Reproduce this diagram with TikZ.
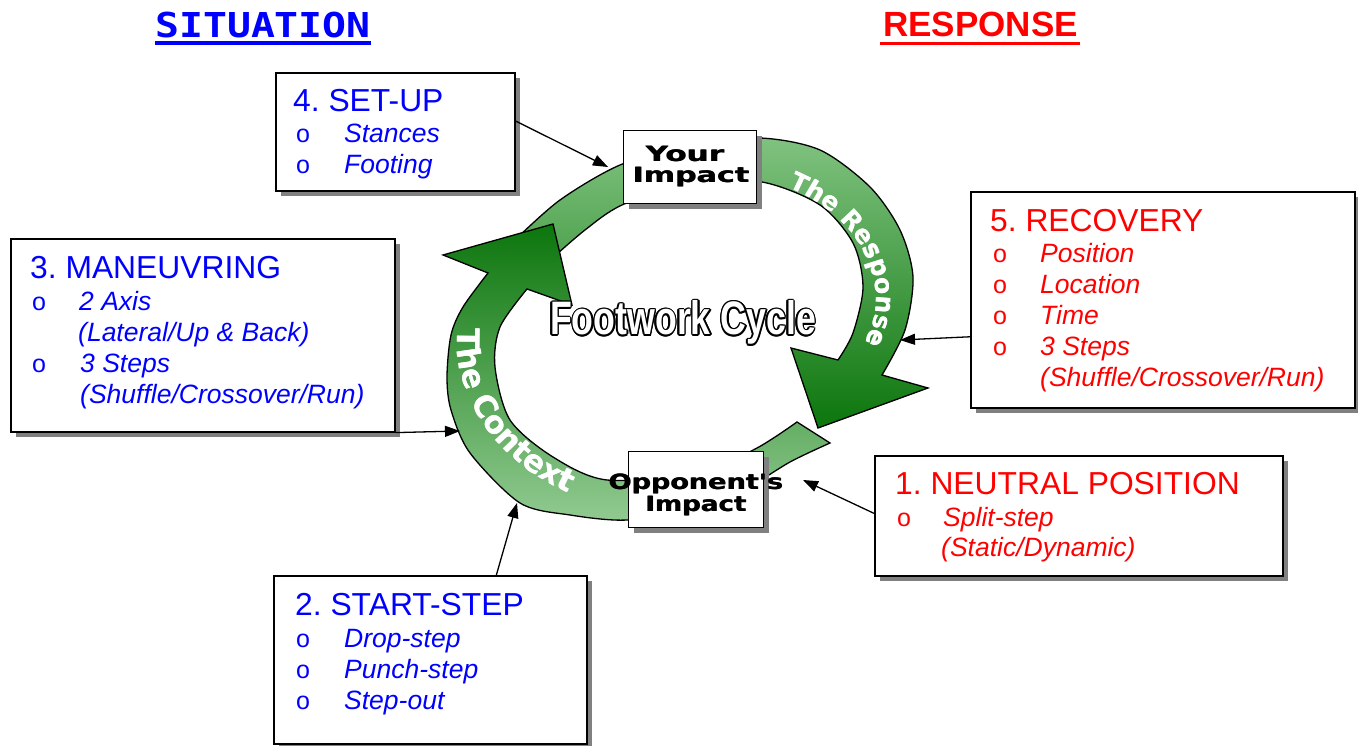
\documentclass[tikz,border=0pt]{standalone}
\usepackage{fontspec}
\setmainfont{Liberation Sans}
\newfontfamily\monofam{DejaVu Sans Mono}
\newfontfamily\heavyfam{DejaVu Sans}[FakeStretch=1.12]
\newfontfamily\ringfam{DejaVu Sans}
\usetikzlibrary{arrows.meta,calc,decorations.text}
\definecolor{sitblue}{RGB}{0,0,255}
\definecolor{resred}{RGB}{255,0,0}
\definecolor{shadowgray}{RGB}{128,128,128}
\definecolor{lightgreen}{RGB}{128,194,128}
\definecolor{darkgreen}{RGB}{12,118,12}
\definecolor{paleg}{RGB}{145,202,145}
\begin{document}
\frenchspacing
\begin{tikzpicture}[x=1pt,y=1pt,
 box/.style={draw=black,line width=1.6pt,fill=white,inner sep=0pt,anchor=north west},
 ibox/.style={draw=black,line width=1.3pt,fill=white,inner sep=0pt,anchor=north west},
 hdr/.style={font=\fontsize{31.8}{36}\selectfont,anchor=base west,inner sep=0pt},
 itm/.style={font=\fontsize{26.5}{30}\selectfont\itshape,anchor=base west,inner sep=0pt},
 bul/.style={font=\fontsize{25}{30}\selectfont,anchor=base west,inner sep=0pt},
 conn/.style={line width=1.3pt,-{Triangle[length=15pt,width=11pt]}},
 ring/.style={draw=black,line width=1.3pt},
 impact/.style={font=\heavyfam\bfseries\fontsize{21}{21}\selectfont,anchor=base,inner sep=0pt},
 fcyc/.style={font=\bfseries\fontsize{47}{47}\selectfont,anchor=base,inner sep=0pt},
]
\useasboundingbox (0,0) rectangle (1358,745);

% titles
\node[anchor=base west,inner sep=0pt,text=sitblue,font=\monofam\bfseries\fontsize{34.3}{36}\selectfont] (sit) at (155,707) {\scalebox{1.16}[1]{SITUATION}};
\fill[sitblue] ([yshift=-3pt]sit.base west) rectangle ([yshift=-7pt]sit.base east);
\node[anchor=base west,inner sep=0pt,text=resred,font=\bfseries\fontsize{35}{36}\selectfont] (resp) at (883,708) {RESPONSE};
\fill[resred] ([xshift=-3pt,yshift=-5pt]resp.base west) rectangle ([xshift=2pt,yshift=-8pt]resp.base east);

% Response arrow
\path[ring,top color=lightgreen,bottom color=darkgreen]
  plot[smooth] coordinates {(515,505) (560,545) (620,580) (690,600) (760,607) (820,595) (870,558) (900,515) (913,468) (905,415) (882,370)}
  -- (928,357) -- (818,317) -- (791,397) -- (838,385)
  -- plot[smooth] coordinates {(838,385) (853,412) (863,458) (853,502) (820,540) (762,563) (690,563) (622,540) (585,515) (548,483)}
  -- cycle;
% Context arrow
\path[ring,top color=darkgreen,bottom color=paleg]
  plot[smooth] coordinates {(830,302) (790,283) (740,253) (690,237) (627,225) (570,230) (520,242) (470,292) (451,335) (447,368) (451,410) (463,438) (488,472)}
  -- (443,490) -- (553,521) -- (572,440) -- (527,456)
  -- plot[smooth] coordinates {(527,456) (500,418) (495,378) (510,325) (553,288) (607,265) (700,272) (757,297) (797,323)}
  -- cycle;

% ring labels (drawn twice, slightly offset, for a heavier weight)
{\ringfam\bfseries\fontsize{25}{25}\selectfont
\foreach \dx in {0,0.6}{
\path[xshift=\dx pt,decorate,decoration={text along path,text align=center,
  text={|\color{white}|The Response}}]
  (776.0,562.0) arc[start angle=64,end angle=-26,x radius=178,y radius=128];
}}
{\ringfam\bfseries\fontsize{31}{31}\selectfont
\foreach \dx in {0,0.6}{
\path[xshift=\dx pt,decorate,decoration={text along path,text align=center,
  text={|\color{white}|The Context}}]
  (459.1,429.5) arc[start angle=172,end angle=244,x radius=218,y radius=176];
}}

% impact boxes
\fill[shadowgray] (629,609) rectangle (762,536);
\node[ibox,minimum width=133pt,minimum height=73pt] (yimp) at (623,615) {};
\fill[shadowgray] (634,288) rectangle (769,212);
\node[ibox,minimum width=135pt,minimum height=76pt] (oimp) at (628,294) {};
\foreach \dx [count=\i] in {-0.35,0.35}{
  \node[impact] (yimpa\i) at (685+\dx,583) {\scalebox{1.32}[1]{Your}};
  \node[impact] (yimpb\i) at (691+\dx,562) {\scalebox{1.28}[1]{Impact}};
  \node[impact] (oimpa\i) at (696+\dx,255) {\scalebox{1.15}[1]{Opponent's}};
  \node[impact] (oimpb\i) at (696+\dx,233) {\scalebox{1.11}[1]{Impact}};
}

% Footwork Cycle (outlined)
\foreach \a [count=\i] in {0,30,...,330}
  \node[fcyc,text=black] (fco\i) at ($(683,410)+(\a:1.6)$) {\scalebox{0.76}[1]{Footwork Cycle}};
\node[fcyc,text=white] (fc) at (683,410) {\scalebox{0.76}[1]{Footwork Cycle}};

% boxes with shadows
\fill[shadowgray] (281,667) rectangle (520,549);
\node[box,minimum width=239pt,minimum height=118pt] (setup) at (275,673) {};
\fill[shadowgray] (16,501) rectangle (400,308);
\node[box,minimum width=384pt,minimum height=193pt] (maneuv) at (10,507) {};
\fill[shadowgray] (976,548) rectangle (1360,332);
\node[box,minimum width=384pt,minimum height=216pt] (recov) at (970,554) {};
\fill[shadowgray] (880,284) rectangle (1288,164);
\node[box,minimum width=408pt,minimum height=120pt] (neutral) at (874,290) {};
\fill[shadowgray] (279,164) rectangle (592,-4);
\node[box,minimum width=313pt,minimum height=168pt] (start) at (273,170) {};

% SET-UP text
\begin{scope}[every node/.append style={text=sitblue}]
\node[hdr] (s4h) at (293,633.5) {4. SET-UP};
\node[bul] (s4b1) at (296,602) {o};
\node[itm] (s4i1) at (344,602) {Stances};
\node[bul] (s4b2) at (296,571) {o};
\node[itm] (s4i2) at (344,571) {Footing};
% MANEUVRING
\node[hdr] (s3h) at (30,466) {3. MANEUVRING};
\node[bul] (s3b1) at (32,434) {o};
\node[itm] (s3i1) at (79,434) {2 Axis};
\node[itm] (s3i2) at (78,403) {(Lateral/Up \& Back)};
\node[bul] (s3b2) at (32,372) {o};
\node[itm] (s3i3) at (80,372) {3 Steps};
\node[itm] (s3i4) at (80,341) {(Shuffle/Crossover/Run)};
% START-STEP
\node[hdr] (s2h) at (295,130) {2. START-STEP};
\node[bul] (s2b1) at (296,98) {o};
\node[itm] (s2i1) at (344,98) {Drop-step};
\node[bul] (s2b2) at (296,67) {o};
\node[itm] (s2i2) at (344,67) {Punch-step};
\node[bul] (s2b3) at (296,36) {o};
\node[itm] (s2i3) at (344,36) {Step-out};
\end{scope}
\begin{scope}[every node/.append style={text=resred}]
% RECOVERY
\node[hdr] (s5h) at (990,513.5) {5. RECOVERY};
\node[bul] (s5b1) at (993,482) {o};
\node[itm] (s5i1) at (1040,482) {Position};
\node[bul] (s5b2) at (993,451) {o};
\node[itm] (s5i2) at (1040,451) {Location};
\node[bul] (s5b3) at (993,420) {o};
\node[itm] (s5i3) at (1040,420) {Time};
\node[bul] (s5b4) at (993,389) {o};
\node[itm] (s5i4) at (1040,389) {3 Steps};
\node[itm] (s5i5) at (1040,358) {(Shuffle/Crossover/Run)};
% NEUTRAL
\node[hdr] (s1h) at (895,250) {1. NEUTRAL POSITION};
\node[bul] (s1b1) at (897,218) {o};
\node[itm] (s1i1) at (943,218) {Split-step};
\node[itm] (s1i2) at (941,188) {(Static/Dynamic)};
\end{scope}

% connectors
\coordinate (t4) at (608,578);
\coordinate (t5) at (900,405);
\coordinate (t1) at (803,265);
\coordinate (t2) at (517,242);
\coordinate (t3) at (460,314);
\draw[conn] ($(setup.north east)!0.41!(setup.south east)$) -- (t4);
\draw[conn] ($(recov.north west)!0.67!(recov.south west)$) -- (t5);
\draw[conn] ($(neutral.north west)!0.48!(neutral.south west)$) -- (t1);
\draw[conn] ($(start.north west)!0.71!(start.north east)$) -- (t2);
\draw[conn] (maneuv.south east) -- (t3);
\end{tikzpicture}
\end{document}
